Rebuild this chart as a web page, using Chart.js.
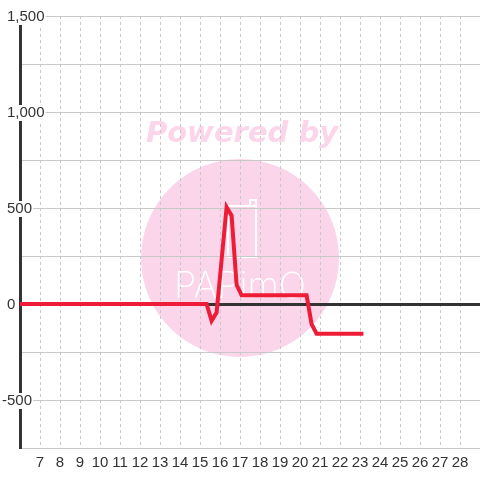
<!DOCTYPE html>
<html>
<head>
<meta charset="utf-8">
<script src="https://cdn.jsdelivr.net/npm/chart.js@4/dist/chart.umd.min.js"></script>
<style>
	html, body { margin: 0; padding: 0; background: #fff; }
	#wrap { width: 480px; height: 480px; }
</style>
</head>
<body>
<div id="wrap"><canvas id="lineChart"></canvas></div>
<script>
// hours (x) and values (y) of the line's vertices
const hours = [6, 15.33, 15.58, 15.83, 16.33, 16.58, 16.83, 17.08, 20.33, 20.58, 20.83, 23.17];
const values = [0, 0, -88, -45, 505, 460, 100, 45, 45, -105, -155, -155];
const yTickLabels = [-500, 0, 500, 1000, 1500];
const xTickLabels = [7, 8, 9, 10, 11, 12, 13, 14, 15, 16, 17, 18, 19, 20, 21, 22, 23, 24, 25, 26, 27, 28];

const FONT = "Liberation Sans, Arial, sans-serif";

// pink "Powered by papimo" watermark under the grid
const watermark = {
	id: "watermark",
	beforeDraw(chart) {
		const { ctx } = chart;
		ctx.save();
		ctx.fillStyle = "#fbd5ea";
		ctx.beginPath();
		ctx.arc(240, 258, 99, 0, Math.PI * 2);
		ctx.fill();

		ctx.font = "italic bold 29px 'DejaVu Sans', sans-serif";
		ctx.textAlign = "center";
		ctx.textBaseline = "middle";
		ctx.fillText("Powered by", 242, 134);

		ctx.strokeStyle = "#ffffff";
		ctx.lineWidth = 2;
		ctx.strokeRect(228, 206, 28, 51);
		ctx.beginPath();
		ctx.moveTo(250, 206);
		ctx.lineTo(250, 200);
		ctx.lineTo(256, 200);
		ctx.lineTo(256, 206);
		ctx.stroke();

		ctx.fillStyle = "#ffffff";
		ctx.font = "200 36px Inter, 'DejaVu Sans Mono', monospace";
		ctx.fillText("PAPimO", 240, 287);
		ctx.restore();
	},
};

// y labels with white backdrop over the axis line
const yLabels = {
	id: "yLabels",
	afterDraw(chart) {
		const { ctx } = chart;
		const y = chart.scales.y;
		ctx.save();
		ctx.font = "15px " + FONT;
		ctx.textBaseline = "middle";
		ctx.textAlign = "left";
		yTickLabels.forEach((v) => {
			const text = v.toLocaleString("en-US");
			const py = y.getPixelForValue(v) + 1;
			const w = ctx.measureText(text).width;
			const x = v < 0 ? 7 - ctx.measureText("-").width : 7;
			ctx.fillStyle = "#ffffff";
			ctx.fillRect(x - 1, py - 8, w + 2, 16);
			ctx.fillStyle = "#333333";
			ctx.fillText(text, x, py);
		});
		ctx.restore();
	},
};

new Chart(document.getElementById("lineChart").getContext("2d"), {
	type: "line",
	data: {
		datasets: [
			{
				data: hours.map((h, i) => ({ x: h, y: values[i] })),
				borderColor: "#ee1c37",
				borderWidth: 4,
				pointRadius: 0,
				fill: false,
				tension: 0,
			},
		],
	},
	options: {
		responsive: true,
		maintainAspectRatio: false,
		animation: false,
		layout: { padding: { top: 16, right: 0, left: 0, bottom: 0 } },
		plugins: {
			legend: { display: false },
			tooltip: { enabled: false },
		},
		scales: {
			x: {
				type: "linear",
				min: 6,
				max: 29,
				afterBuildTicks: (scale) => {
					scale.ticks = [6].concat(xTickLabels, [29]).map((v) => ({ value: v }));
				},
				afterFit: (scale) => {
					scale.height = 32;
					scale.paddingLeft = 0;
					scale.paddingRight = 0;
				},
				ticks: {
					autoSkip: false,
					maxRotation: 0,
					padding: 6,
					color: "#333",
					font: { size: 15, family: FONT },
					callback: (v) => (xTickLabels.includes(v) ? String(v) : ""),
				},
				grid: {
					drawTicks: false,
					color: (c) => (c.tick && (c.tick.value === 6 || c.tick.value === 29) ? "rgba(0,0,0,0)" : "#c8c8c8"),
					lineWidth: 1,
				},
				border: { display: false, dash: [3, 3] },
			},
			y: {
				min: -750,
				max: 1500,
				afterFit: (scale) => {
					scale.width = 20;
					scale.paddingTop = 0;
					scale.paddingBottom = 0;
				},
				ticks: {
					stepSize: 250,
					display: false,
				},
				grid: {
					drawTicks: false,
					color: (c) => (c.tick && c.tick.value === 0 ? "#333333" : "#c8c8c8"),
					lineWidth: (c) => (c.tick && c.tick.value === 0 ? 3 : 1),
				},
				border: { color: "#333333", width: 3 },
			},
		},
	},
	plugins: [watermark, yLabels],
});
</script>
</body>
</html>
